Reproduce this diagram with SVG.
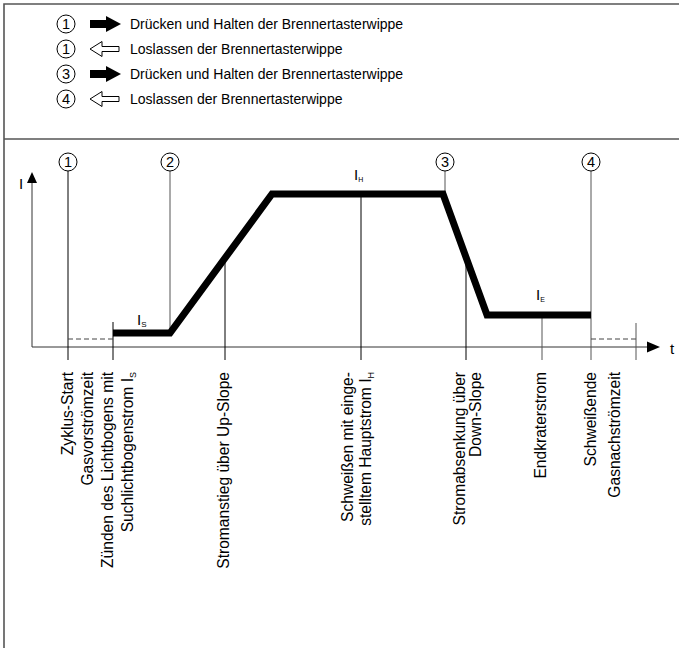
<svg xmlns="http://www.w3.org/2000/svg" width="679" height="648" viewBox="0 0 679 648">
<style>
text{font-family:"Liberation Sans",Arial,sans-serif;fill:#000}
.leg{font-size:14px}
.num{font-size:14.5px;text-anchor:middle}
.lbl{font-size:15.6px;text-anchor:end}
.circ{fill:#fff;stroke:#000;stroke-width:1}
.blk{stroke:#000;stroke-width:1;fill:none}
.gry{stroke:#555;stroke-width:1;fill:none}
.dash{stroke:#444;stroke-width:1;stroke-dasharray:5 3;fill:none}
.fa{fill:#000}
.ha{fill:#fff;stroke:#000;stroke-width:1}
</style>
<rect width="679" height="648" fill="#fff"/>
<g id="frame" fill="none" stroke="#555" stroke-width="1.6">
<path d="M4 648 V4 H679"/>
<path d="M4 139 H679"/>
</g>
<g id="legend">
<g id="leg1"><circle class="circ" cx="66" cy="24" r="9"/><text class="num" x="66" y="29.2">1</text><polygon class="fa" points="90,20 106,20 106,16 121,24 106,32 106,28 90,28"/><text class="leg" x="130" y="29">Drücken und Halten der Brennertasterwippe</text></g>
<g id="leg2"><circle class="circ" cx="66" cy="49" r="9"/><text class="num" x="66" y="54.2">1</text><polygon class="ha" points="90,49 102,41.5 102,46.5 119,46.5 119,51.5 102,51.5 102,56.5"/><text class="leg" x="130" y="54">Loslassen der Brennertasterwippe</text></g>
<g id="leg3"><circle class="circ" cx="66" cy="74" r="9"/><text class="num" x="66" y="79.2">3</text><polygon class="fa" points="90,70 106,70 106,66 121,74 106,82 106,78 90,78"/><text class="leg" x="130" y="79">Drücken und Halten der Brennertasterwippe</text></g>
<g id="leg4"><circle class="circ" cx="66" cy="99" r="9"/><text class="num" x="66" y="104.2">4</text><polygon class="ha" points="90,99 102,91.5 102,96.5 119,96.5 119,101.5 102,101.5 102,106.5"/><text class="leg" x="130" y="104">Loslassen der Brennertasterwippe</text></g>
</g>
<g id="axes">
<path d="M32 347 V182" stroke="#333" stroke-width="1"/>
<polygon points="32,172 37,183 27,183" fill="#000"/>
<text x="19" y="189" style="font-size:15px">I</text>
<path d="M32 347 H650" stroke="#333" stroke-width="1"/>
<polygon points="660,347 647,341.5 647,352.5" fill="#000"/>
<text x="670" y="354" style="font-size:15px">t</text>
</g>
<g id="connectors">
<path class="blk" d="M68 171 V360"/>
<path class="blk" d="M113 322 V360"/>
<path class="dash" d="M68 339 H113"/>
<path class="gry" d="M170 171 V333"/>
<path class="blk" d="M225 258 V360"/>
<path class="blk" d="M361 194 V360"/>
<path class="gry" d="M445 171 V194"/>
<path class="blk" d="M466 257 V360"/>
<path class="gry" d="M542 315 V360"/>
<path class="gry" d="M591 171 V360"/>
<path class="dash" d="M591 339 H636"/>
<path class="gry" d="M636 323 V360"/>
</g>
<g id="curve">
<polyline points="113,333 170,333 272,194 443,194 487,315 591,315" fill="none" stroke="#000" stroke-width="7" stroke-linejoin="miter"/>
</g>
<g id="markers">
<g id="m1"><circle class="circ" cx="68" cy="162" r="9"/><text class="num" x="68" y="167.2">1</text></g>
<g id="m2"><circle class="circ" cx="170" cy="162" r="9"/><text class="num" x="170" y="167.2">2</text></g>
<g id="m3"><circle class="circ" cx="445" cy="162" r="9"/><text class="num" x="445" y="167.2">3</text></g>
<g id="m4"><circle class="circ" cx="591" cy="162" r="9"/><text class="num" x="591" y="167.2">4</text></g>
</g>
<g id="levels">
<text x="137" y="325" style="font-size:15px">I<tspan style="font-size:8px" dy="2">S</tspan></text>
<text x="354" y="180" style="font-size:15px">I<tspan style="font-size:7px" dy="2">H</tspan></text>
<text x="536" y="300" style="font-size:15px">I<tspan style="font-size:7px" dy="2">E</tspan></text>
</g>
<g id="labels">
<text class="lbl" x="73" y="372" transform="rotate(-90 73 372)">Zyklus-Start</text>
<text class="lbl" x="93" y="372" transform="rotate(-90 93 372)">Gasvorströmzeit</text>
<text class="lbl" x="113" y="372" transform="rotate(-90 113 372)">Zünden des  Lichtbogens mit</text>
<text class="lbl" x="133" y="372" transform="rotate(-90 133 372)">Suchlichtbogenstrom I<tspan style="font-size:9px" dy="3">S</tspan></text>
<text class="lbl" x="229" y="372" transform="rotate(-90 229 372)">Stromanstieg über Up-Slope</text>
<text class="lbl" x="353" y="372" transform="rotate(-90 353 372)">Schweißen mit einge-</text>
<text class="lbl" x="371" y="372" transform="rotate(-90 371 372)">stelltem Hauptstrom I<tspan style="font-size:9px" dy="3">H</tspan></text>
<text class="lbl" x="464.5" y="372" transform="rotate(-90 464.5 372)">Stromabsenkung über</text>
<text class="lbl" x="481" y="372" transform="rotate(-90 481 372)">Down-Slope</text>
<text class="lbl" x="546" y="372" transform="rotate(-90 546 372)">Endkraterstrom</text>
<text class="lbl" x="596" y="372" transform="rotate(-90 596 372)">Schweißende</text>
<text class="lbl" x="619.5" y="372" transform="rotate(-90 619.5 372)">Gasnachströmzeit</text>
</g>
</svg>
